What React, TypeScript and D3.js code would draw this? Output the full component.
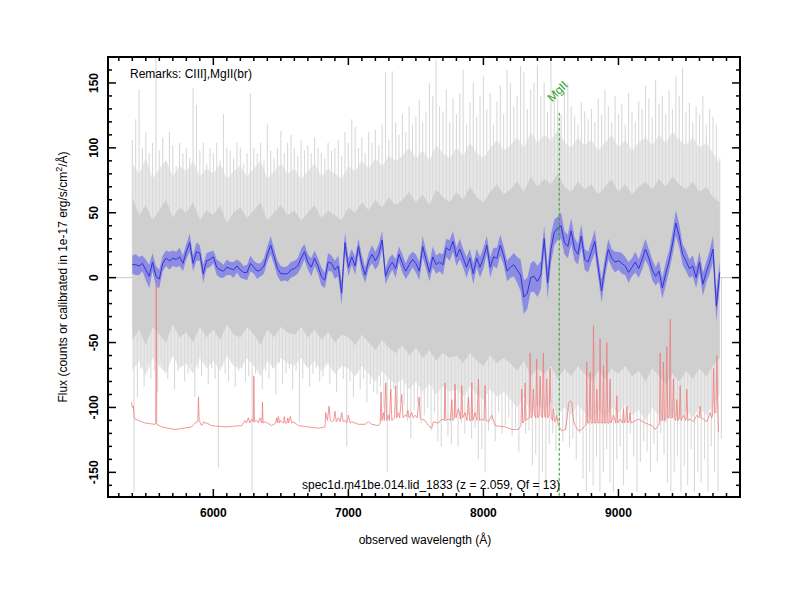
import React from "react";
import * as d3 from "d3";

// ---------- data ----------
const lamStart = 5400; // Å, first sample of the binned spectra
const lamStep = 25; // Å per bin
const envStep = 50; // Å per bin of the core / mid envelopes

// smoothed spectrum (blue)
const blueFlux = [
  10, 10, 9, 11, 6, 1, 12, 1,
  -1, 11, 15, 13, 15, 14, 16, 11,
  20, 27, 11, 20, 19, 3, 13, 14,
  16, 8, 6, 5, 8, 7, 6, 9,
  6, 4, 4, 11, 8, 5, 6, 9,
  18, 25, 16, 7, 3, 3, 3, 6,
  7, 9, 15, 20, 12, 8, 15, 9,
  1, -2, 12, 11, 6, 9, -12, 27,
  8, 16, 9, 24, 10, 2, 13, 18,
  13, 18, 29, 1, 8, 12, 7, 18,
  11, 5, 10, 14, 11, 5, 24, 14,
  4, 16, 10, 12, 10, 23, 21, 28,
  16, 22, 15, 8, 15, 3, 15, 8,
  15, 25, 8, 16, 15, 25, 17, 5,
  8, 10, 6, 2, -15, -12, 0, 1,
  -3, 2, 30, -4, 22, 35, 38, 40,
  27, 24, 36, 22, 18, 32, 14, 12,
  20, 28, 8, -10, 8, 22, 15, 12,
  13, 11, 9, 4, 8, 12, 7, 14,
  22, 15, 6, 1, 5, -8, 3, 13,
  26, 42, 32, 18, 13, 7, 9, 0,
  12, -5, 4, 12, 22, -22, 4,
];

// smoothed error (half width of blue band)
const blueErr = [
  7, 8, 7, 6, 8, 9, 7, 8,
  7, 6, 6, 7, 6, 6, 7, 6,
  6, 7, 6, 7, 6, 7, 6, 6,
  5, 6, 6, 5, 6, 5, 6, 5,
  6, 5, 6, 6, 5, 6, 5, 6,
  6, 7, 6, 6, 6, 5, 6, 6,
  6, 6, 7, 6, 6, 7, 6, 6,
  7, 6, 7, 6, 7, 8, 9, 8,
  7, 6, 7, 6, 7, 6, 6, 7,
  7, 8, 7, 6, 7, 6, 7, 6,
  7, 6, 7, 6, 7, 7, 8, 7,
  7, 8, 7, 7, 8, 7, 8, 8,
  7, 8, 7, 8, 7, 8, 7, 8,
  8, 7, 8, 7, 8, 8, 7, 8,
  8, 9, 10, 12, 13, 12, 11, 12,
  12, 11, 10, 12, 11, 10, 9, 10,
  9, 9, 10, 9, 8, 9, 8, 8,
  8, 9, 8, 9, 8, 8, 7, 8,
  7, 8, 7, 8, 7, 8, 7, 8,
  8, 7, 8, 7, 8, 8, 9, 8,
  9, 10, 9, 8, 8, 7, 8, 8,
  8, 9, 8, 9, 10, 12, 9,
];

// raw spectrum (gray): per-bin maximum and minimum
const grayHi = [
  106, 122, 145, 100, 112, 96, 104, 172,
  98, 108, 90, 112, 102, 86, 104, 96,
  100, 92, 146, 133, 98, 104, 88, 100,
  96, 104, 90, 126, 100, 98, 92, 104,
  100, 88, 96, 142, 100, 96, 104, 90,
  118, 98, 92, 100, 113, 96, 104, 110,
  100, 94, 106, 98, 102, 96, 108, 100,
  96, 92, 104, 98, 100, 106, 94, 112,
  104, 122, 116, 100, 108, 96, 112, 104,
  114, 102, 118, 158, 106, 159, 120, 110,
  126, 112, 132, 118, 124, 137, 120, 128,
  150, 140, 168, 132, 128, 145, 120, 138,
  126, 142, 160, 118, 135, 150, 124, 140,
  155, 130, 142, 118, 136, 148, 126, 160,
  150, 132, 140, 163, 158, 130, 145, 150,
  164, 140, 150, 128, 166, 145, 138, 126,
  142, 150, 132, 125, 118, 135, 128, 122,
  130, 120, 138, 126, 145, 132, 120, 140,
  126, 134, 118, 142, 128, 120, 136, 130,
  148, 138, 124, 152, 134, 140, 126, 144,
  130, 155, 140, 162, 128, 135, 120, 132,
  126, 140, 118, 130, 124, 118, 92,
];
const grayLo = [
  -165, -92, -70, -84, -66, -78, -72, -88,
  -64, -70, -78, -62, -86, -72, -68, -80,
  -74, -66, -92, -70, -76, -64, -82, -70,
  -78, -147, -68, -74, -80, -66, -84, -72,
  -70, -80, -76, -165, -74, -68, -86, -72,
  -78, -70, -90, -66, -82, -74, -70, -86,
  -72, -111, -78, -68, -84, -74, -70, -80,
  -76, -65, -82, -72, -88, -70, -78, -130,
  -80, -92, -74, -86, -78, -96, -82, -88,
  -90, -84, -100, -150, -92, -86, -104, -96,
  -98, -110, -124, -102, -96, -112, -106, -100,
  -118, -104, -126, -130, -110, -122, -128, -108,
  -130, -112, -120, -106, -124, -116, -140, -132,
  -150, -118, -110, -126, -104, -120, -114, -108,
  -122, -116, -134, -112, -120, -118, -145, -136,
  -165, -150, -158, -128, -120, -134, -112, -126,
  -118, -130, -124, -140, -120, -155, -165, -150,
  -160, -138, -165, -150, -132, -158, -165, -140,
  -130, -160, -148, -120, -138, -165, -142, -126,
  -134, -150, -128, -142, -120, -136, -158, -165,
  -150, -138, -165, -145, -160, -132, -165, -150,
  -158, -140, -165, -130, -150, -165, -124,
];

// typical extent of the raw spectrum (light gray), 50 Å bins from 5400 to 9750 Å
const midHi = [
  88, 80, 92, 76, 84, 90, 78, 86,
  82, 90, 78, 84, 80, 88, 76, 82,
  86, 78, 84, 90, 76, 82, 88, 80,
  84, 76, 82, 88, 78, 84, 80, 76,
  86, 82, 90, 84, 92, 86, 94, 90,
  94, 100, 92, 98, 90, 102, 96, 92,
  100, 94, 104, 96, 92, 100, 106, 98,
  102, 108, 100, 112, 104, 110, 106, 114,
  104, 100, 108, 102, 106, 98, 104, 110,
  100, 106, 98, 104, 108, 102, 110, 104,
  112, 106, 102, 108, 100, 104, 96, 88,
];
const midLo = [
  -72, -64, -76, -62, -68, -74, -60, -70,
  -66, -74, -62, -70, -64, -72, -60, -68,
  -70, -62, -68, -76, -64, -70, -62, -66,
  -68, -62, -70, -64, -72, -66, -74, -68,
  -70, -76, -68, -74, -80, -72, -78, -82,
  -78, -86, -80, -88, -82, -90, -84, -88,
  -86, -92, -84, -90, -94, -86, -92, -88,
  -94, -100, -92, -104, -98, -102, -96, -106,
  -100, -106, -98, -104, -110, -102, -108, -100,
  -104, -98, -106, -102, -110, -100, -106, -112,
  -104, -110, -102, -108, -100, -106, -98, -90,
];

// dense core of the raw spectrum, 50 Å bins from 5400 to 9750 Å
const coreHi = [
  62, 48, 56, 44, 52, 60, 46, 54,
  50, 58, 44, 52, 48, 56, 42, 50,
  54, 46, 52, 58, 44, 50, 56, 48,
  52, 44, 50, 56, 46, 52, 48, 44,
  54, 50, 58, 52, 60, 54, 62, 56,
  60, 66, 58, 64, 56, 68, 62, 58,
  66, 60, 70, 62, 58, 66, 72, 64,
  68, 74, 66, 78, 70, 76, 72, 80,
  70, 66, 74, 68, 72, 64, 70, 76,
  66, 72, 64, 70, 74, 68, 76, 70,
  78, 72, 68, 74, 66, 70, 62, 58,
];
const coreLo = [
  -48, -40, -52, -38, -44, -50, -36, -46,
  -42, -50, -38, -46, -40, -48, -36, -44,
  -46, -38, -44, -52, -40, -46, -38, -42,
  -44, -38, -46, -40, -48, -42, -50, -44,
  -46, -52, -44, -50, -56, -48, -54, -58,
  -52, -60, -54, -62, -56, -64, -58, -62,
  -60, -66, -58, -64, -68, -60, -66, -62,
  -66, -72, -64, -76, -70, -74, -68, -78,
  -70, -76, -68, -74, -80, -72, -78, -70,
  -74, -68, -76, -72, -80, -70, -76, -82,
  -74, -80, -72, -78, -70, -76, -68, -62,
];

// sky / error spectrum (red): [wavelength, flux]
const redSky: [number, number][] = [
  [5395, -96], [5400, -100], [5408, -99], [5415, -108], [5420, -109], [5445, -110], [5494, -112], [5568, -113],
  [5573, -112], [5577, -4], [5581, -113], [5618, -115], [5716, -117], [5840, -115], [5864, -112], [5885, -111],
  [5890, -92], [5895, -110], [5914, -114], [5930, -111], [5935, -112], [5951, -112], [5988, -114], [6087, -115],
  [6210, -114], [6235, -110], [6245, -112], [6259, -108], [6270, -112], [6284, -109], [6296, -111], [6300, -76],
  [6304, -111], [6321, -110], [6334, -112], [6346, -108], [6360, -112], [6364, -96], [6368, -112], [6383, -111],
  [6432, -114], [6462, -112], [6469, -108], [6476, -112], [6482, -107], [6490, -112], [6498, -110], [6506, -111],
  [6520, -112], [6526, -107], [6532, -112], [6545, -112], [6551, -108], [6557, -112], [6570, -107], [6580, -112],
  [6593, -111], [6630, -114], [6704, -115], [6778, -116], [6827, -115], [6832, -104], [6845, -110], [6857, -99],
  [6866, -110], [6877, -111], [6892, -110], [6901, -103], [6910, -111], [6926, -108], [6940, -111], [6951, -104],
  [6962, -111], [6976, -110], [6988, -112], [7000, -106], [7012, -112], [7025, -111], [7074, -113], [7124, -113],
  [7148, -111], [7173, -113], [7222, -114], [7236, -112], [7242, -88], [7248, -110], [7259, -104], [7266, -110],
  [7277, -81], [7284, -110], [7296, -106], [7304, -110], [7314, -86], [7322, -110], [7333, -109], [7342, -108],
  [7351, -83], [7358, -108], [7370, -104], [7380, -108], [7395, -90], [7405, -108], [7420, -106], [7430, -107],
  [7440, -102], [7450, -108], [7469, -104], [7480, -108], [7494, -106], [7510, -108], [7524, -92], [7532, -108],
  [7543, -109], [7568, -110], [7593, -114], [7617, -116], [7630, -111], [7667, -112], [7691, -109], [7710, -110],
  [7716, -81], [7722, -110], [7741, -109], [7755, -110], [7766, -94], [7774, -110], [7784, -108], [7790, -82],
  [7797, -108], [7815, -101], [7830, -109], [7840, -83], [7847, -108], [7864, -104], [7878, -110], [7889, -92],
  [7898, -110], [7908, -110], [7914, -81], [7921, -110], [7938, -104], [7952, -110], [7963, -78], [7971, -110],
  [7988, -109], [8004, -110], [8012, -83], [8020, -110], [8037, -111], [8062, -106], [8087, -114], [8161, -115],
  [8210, -117], [8259, -117], [8278, -114], [8284, -86], [8292, -112], [8302, -110], [8309, -81], [8316, -110],
  [8325, -109], [8340, -108], [8346, -58], [8353, -108], [8362, -106], [8370, -86], [8378, -106], [8388, -108],
  [8395, -63], [8402, -108], [8412, -106], [8420, -76], [8428, -106], [8437, -108], [8444, -58], [8451, -106],
  [8460, -108], [8469, -78], [8476, -108], [8486, -106], [8494, -70], [8502, -108], [8512, -110], [8519, -101],
  [8527, -111], [8537, -110], [8543, -106], [8556, -114], [8580, -118], [8605, -117], [8618, -110], [8630, -97],
  [8642, -95], [8654, -96], [8667, -110], [8679, -114], [8704, -118], [8728, -117], [8753, -114], [8760, -112],
  [8765, -65], [8771, -112], [8782, -112], [8790, -73], [8797, -112], [8808, -112], [8815, -37], [8822, -112],
  [8832, -112], [8840, -86], [8847, -112], [8857, -112], [8864, -47], [8871, -112], [8882, -112], [8889, -68],
  [8896, -112], [8906, -112], [8914, -50], [8921, -112], [8930, -112], [8938, -78], [8945, -112], [8963, -106],
  [8980, -112], [8988, -91], [8995, -112], [9012, -109], [9030, -112], [9037, -101], [9044, -112], [9055, -110],
  [9062, -99], [9069, -112], [9080, -110], [9086, -104], [9093, -112], [9111, -111], [9148, -109], [9198, -112],
  [9247, -114], [9272, -117], [9296, -114], [9303, -112], [9309, -58], [9316, -110], [9326, -110], [9333, -65],
  [9340, -110], [9351, -108], [9358, -53], [9365, -108], [9376, -108], [9383, -32], [9390, -108], [9400, -108],
  [9407, -78], [9414, -108], [9425, -110], [9432, -94], [9439, -110], [9450, -108], [9457, -83], [9464, -110],
  [9482, -106], [9499, -110], [9506, -86], [9513, -110], [9531, -109], [9556, -111], [9580, -106], [9597, -108],
  [9605, -99], [9612, -108], [9630, -109], [9654, -111], [9672, -106], [9679, -104], [9690, -108], [9697, -106],
  [9704, -70], [9711, -104], [9722, -104], [9729, -60], [9736, -104], [9741, -119],
];

const xMajorTicks = [6000, 7000, 8000, 9000];
const yMajorTicks = [-150, -100, -50, 0, 50, 100, 150];
const lineNames = ["MgII"];
const lineRest = [2798.75];
const redshift = 2.059;
const qualityFlag = 13;
const objectName = "spec1d.m41be.014.lid_1833";
const remarks = "Remarks: CIII],MgII(br)";

// ---------- component ----------
const FONT = "'Liberation Sans', Arial, Helvetica, sans-serif";

export default function App() {
  const L = 108, R = 740, T = 57, B = 497;
  const x = d3.scaleLinear().domain([5220, 9900]).range([L, R]);
  const y = d3.scaleLinear().domain([-169, 170]).range([B, T]);
  const lam = (i: number) => lamStart + i * lamStep;
  const lamE = (i: number) => lamStart + i * envStep;

  const line2 = d3.line<[number, number]>().x((d) => x(d[0])).y((d) => y(d[1]));

  // upward and downward excursions of the raw spectrum, drawn as thin vertical strokes
  let spikes = "";
  grayHi.forEach((h, i) => {
    const xa = x(lam(i));
    const xb = x(lam(i) + lamStep / 2);
    spikes += `M${xa},${y(0)}V${y(h)}M${xb},${y(0)}V${y(grayLo[i])}`;
  });

  const envArea = (hi: number[], lo: number[]) =>
    d3
      .area<number>()
      .x((_, i) => x(lamE(i)))
      .y0((_, i) => y(lo[i]))
      .y1((d) => y(d))(hi) || "";
  const midPath = envArea(midHi, midLo);
  const corePath = envArea(coreHi, coreLo);

  const bandPath =
    d3
      .area<number>()
      .x((_, i) => x(lam(i)))
      .y0((d, i) => y(d - blueErr[i]))
      .y1((d, i) => y(d + blueErr[i]))(blueFlux) || "";
  const bluePath = d3.line<number>().x((_, i) => x(lam(i))).y((d) => y(d))(blueFlux) || "";
  const redPath = line2(redSky) || "";

  const xMinor = d3.range(5300, 9901, 100).filter((v) => !xMajorTicks.includes(v));
  const yMinor = d3.range(-160, 171, 10).filter((v) => !yMajorTicks.includes(v));

  const obsLines = lineRest.map((r) => r * (1 + redshift));

  return (
    <svg
      width={800}
      height={600}
      style={{ position: "absolute", left: 0, top: 0, background: "#fff" }}
      fontFamily={FONT}
    >
      <defs>
        <clipPath id="plotclip">
          <rect x={L} y={T} width={R - L} height={B - T} />
        </clipPath>
      </defs>
      <rect x={0} y={0} width={800} height={600} fill="#fff" />
      <g clipPath="url(#plotclip)">
        <line x1={L} x2={R} y1={y(0)} y2={y(0)} stroke="#c8c8c8" strokeWidth={1} />
        <path d={midPath} fill="#e7e7e7" />
        <path d={spikes} fill="none" stroke="#d9d9d9" strokeWidth={1.1} />
        <path d={corePath} fill="#cfcfcf" />
        <path d={bandPath} fill="#8080e6" opacity={0.85} />
        <path d={bluePath} fill="none" stroke="#3434d6" strokeWidth={1} />
        <path d={redPath} fill="none" stroke="#f07c7c" strokeWidth={0.8} />
        {obsLines.map((lo, i) => (
          <line
            key={i}
            x1={x(lo)}
            x2={x(lo)}
            y1={y(127)}
            y2={B}
            stroke="#2ca02c"
            strokeWidth={1}
            strokeDasharray="3,2"
          />
        ))}
      </g>
      {obsLines.map((lo, i) => (
        <text
          key={i}
          transform={`translate(${x(lo) - 7},${y(135)}) rotate(-45)`}
          fontSize={12}
          fill="#2ca02c"
        >
          {lineNames[i]}
        </text>
      ))}

      {/* frame */}
      <rect x={L} y={T} width={R - L} height={B - T} fill="none" stroke="#000" strokeWidth={2} />
      {/* x ticks */}
      {xMajorTicks.map((v) => (
        <g key={"xM" + v}>
          <line x1={x(v)} x2={x(v)} y1={B} y2={B - 8} stroke="#000" strokeWidth={1.5} />
          <line x1={x(v)} x2={x(v)} y1={T} y2={T + 8} stroke="#000" strokeWidth={1.5} />
          <text x={x(v)} y={517} textAnchor="middle" fontSize={12} fontWeight="bold">
            {v}
          </text>
        </g>
      ))}
      {xMinor.map((v) => (
        <g key={"xm" + v}>
          <line x1={x(v)} x2={x(v)} y1={B} y2={B - 4} stroke="#000" strokeWidth={1.5} />
          <line x1={x(v)} x2={x(v)} y1={T} y2={T + 4} stroke="#000" strokeWidth={1.5} />
        </g>
      ))}
      {/* y ticks */}
      {yMajorTicks.map((v) => (
        <g key={"yM" + v}>
          <line x1={L} x2={L + 8} y1={y(v)} y2={y(v)} stroke="#000" strokeWidth={1.5} />
          <line x1={R} x2={R - 8} y1={y(v)} y2={y(v)} stroke="#000" strokeWidth={1.5} />
          <text
            transform={`translate(98,${y(v)}) rotate(-90)`}
            textAnchor="middle"
            fontSize={12}
            fontWeight="bold"
          >
            {v}
          </text>
        </g>
      ))}
      {yMinor.map((v) => (
        <g key={"ym" + v}>
          <line x1={L} x2={L + 4} y1={y(v)} y2={y(v)} stroke="#000" strokeWidth={1.5} />
          <line x1={R} x2={R - 4} y1={y(v)} y2={y(v)} stroke="#000" strokeWidth={1.5} />
        </g>
      ))}

      {/* texts */}
      <text x={130} y={78} fontSize={12}>
        {remarks}
      </text>
      <text x={302} y={489} fontSize={12}>
        {`${objectName} (z = ${redshift.toFixed(3)}, Qf = ${qualityFlag})`}
      </text>
      <text x={425} y={544} textAnchor="middle" fontSize={12}>
        observed wavelength (Å)
      </text>
      <text transform="translate(67,277) rotate(-90)" textAnchor="middle" fontSize={12}>
        Flux (counts or calibrated in 1e-17 erg/s/cm
        <tspan dy={-5} fontSize={9}>
          2
        </tspan>
        <tspan dy={5}>/Å)</tspan>
      </text>
    </svg>
  );
}
